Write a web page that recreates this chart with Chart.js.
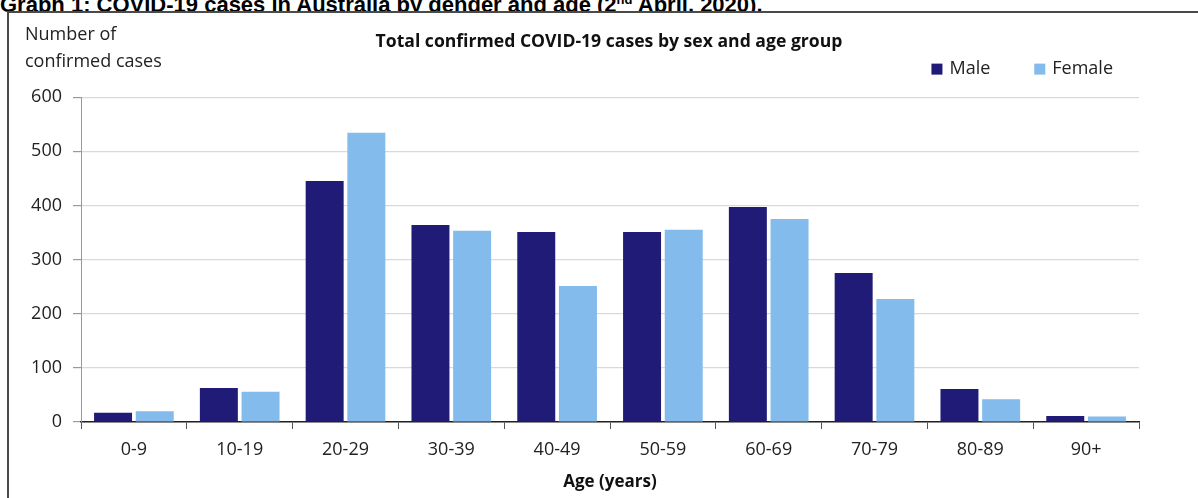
<!DOCTYPE html>
<html>
<head>
<meta charset="utf-8">
<script src="https://cdn.jsdelivr.net/npm/chart.js@4"></script>
<style>
    html, body { margin: 0; padding: 0; background: #fff; overflow: hidden; }
    body { width: 1198px; height: 498px; position: relative; }
    #cabecalho {
        position: absolute; left: 0; top: -11px; white-space: nowrap;
        font: bold 22px "Liberation Sans", Arial, sans-serif; line-height: 22px; color: #000;
    }
    #cabecalho sup { font-size: 13px; }
    #moldura {
        position: absolute; left: 7px; top: 11px; width: 1300px; height: 600px;
        border: 2px solid #4a4a4a; background: #fff;
    }
    #rotulo-y {
        position: absolute; left: 25px; top: 20px;
        font: 18px "Open Sans", sans-serif; line-height: 27px; color: #222;
    }
    #caixa { position: absolute; left: 8px; top: 12px; width: 1190px; height: 486px; }
</style>
</head>
<body>
<div id="cabecalho">Graph 1: COVID-19 cases in Australia by gender and age (2<sup>nd</sup> April, 2020).</div>
<div id="moldura"></div>
<div id="caixa"><canvas id="grafico"></canvas></div>
<div id="rotulo-y">Number of<br>confirmed cases</div>
<script>
// Dados do gráfico
const faixasEtarias = ["0-9", "10-19", "20-29", "30-39", "40-49", "50-59", "60-69", "70-79", "80-89", "90+"];
const casosHomens = [17, 63, 445, 364, 351, 351, 397, 275, 61, 11];
const casosMulheres = [20, 56, 534, 353, 251, 355, 375, 227, 42, 10];
const marcasY = [0, 100, 200, 300, 400, 500, 600];

const corHomens = "#1F1B77";
const corMulheres = "#82BBEC";

// Legenda desenhada no canto superior direito
const legendaCanto = {
    id: "legendaCanto",
    afterDraw(chart) {
        const ctx = chart.ctx;
        const area = chart.chartArea;
        ctx.save();
        ctx.font = '18px "Open Sans"';
        ctx.textBaseline = "middle";
        let x = area.right - 26;
        const y = area.top - 28;
        for (let i = chart.data.datasets.length - 1; i >= 0; i--) {
            const ds = chart.data.datasets[i];
            x -= ctx.measureText(ds.label).width;
            ctx.fillStyle = "#222";
            ctx.fillText(ds.label, x, y);
            x -= 7 + 11;
            ctx.fillStyle = ds.backgroundColor;
            ctx.fillRect(x, y - 5.5, 11, 11);
            x -= 44;
        }
        ctx.restore();
    }
};

document.addEventListener("DOMContentLoaded", function () {
    const ctx = document.getElementById("grafico").getContext("2d");
    new Chart(ctx, {
        type: "bar",
        data: {
            labels: faixasEtarias,
            datasets: [{
                label: "Male",
                data: casosHomens,
                backgroundColor: corHomens,
            }, {
                label: "Female",
                data: casosMulheres,
                backgroundColor: corMulheres,
            }],
        },
        plugins: [legendaCanto],
        options: {
            responsive: true,
            maintainAspectRatio: false,
            animation: false,
            categoryPercentage: 0.788,
            barPercentage: 0.911,
            layout: { padding: { left: 12, right: 0, top: 0, bottom: 0 } },
            plugins: {
                legend: { display: false },
                tooltip: { enabled: false },
                title: {
                    display: true,
                    text: "Total confirmed COVID-19 cases by sex and age group",
                    color: "#111",
                    font: { family: "Open Sans", size: 17.6, weight: "bold" },
                    padding: { top: 19, bottom: 45 },
                },
            },
            scales: {
                x: {
                    grid: {
                        drawOnChartArea: false,
                        drawTicks: true,
                        tickLength: 7,
                        tickColor: "#555",
                        offset: true,
                    },
                    border: { color: "#222", width: 1.5 },
                    ticks: {
                        color: "#222",
                        padding: 10,
                        font: { family: "Open Sans", size: 18 },
                    },
                    title: {
                        display: true,
                        text: "Age (years)",
                        color: "#111",
                        font: { family: "Open Sans", size: 17, weight: "bold" },
                        padding: { top: 0, bottom: 6 },
                    },
                    afterFit(escala) { escala.height = 76; },
                },
                y: {
                    min: 0,
                    max: 600,
                    afterBuildTicks(escala) { escala.ticks = marcasY.map(v => ({ value: v })); },
                    grid: {
                        color: "#d9d9d9",
                        lineWidth: 1.2,
                        tickLength: 8,
                        tickColor: "#999",
                    },
                    border: { color: "#999", width: 1 },
                    ticks: {
                        color: "#222",
                        padding: 11,
                        font: { family: "Open Sans", size: 18 },
                    },
                    afterFit(escala) { escala.width = 61; },
                },
                margem: {
                    type: "linear",
                    position: "right",
                    display: true,
                    grid: { display: false },
                    border: { display: false },
                    ticks: { display: false },
                    afterFit(escala) { escala.width = 59; },
                },
            },
        },
    });
});
</script>
</body>
</html>
